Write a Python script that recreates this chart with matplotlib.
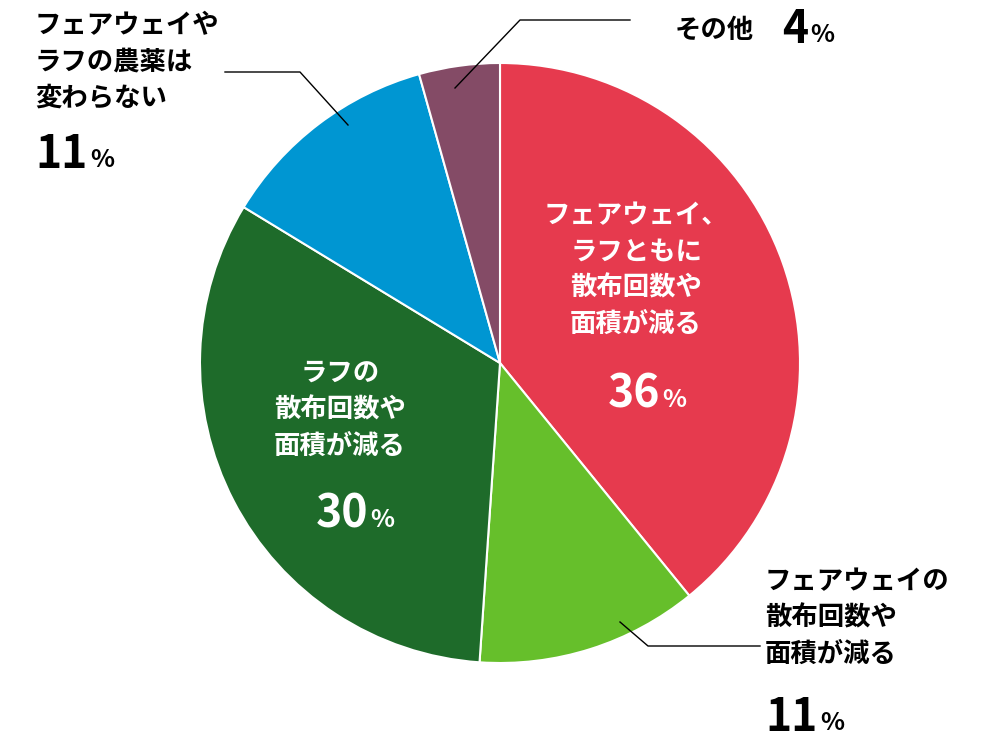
import matplotlib.pyplot as plt

plt.rcParams['font.family'] = 'Noto Sans CJK JP'

# データ
labels = ['フェアウェイ、\nラフともに\n散布回数や\n面積が減る', 'フェアウェイの\n散布回数や\n面積が減る',
          'ラフの\n散布回数や\n面積が減る', 'フェアウェイや\nラフの農薬は\n変わらない', 'その他']
values = [36, 11, 30, 11, 4]
colors = ['#E63A4E', '#66BF2B', '#1E6B2A', '#0096D2', '#844B66']

W, H = 1000, 739
fig = plt.figure(figsize=(10, 7.39), dpi=100)
ax = fig.add_axes([200 / W, (H - 663) / H, 600 / W, 600 / H])
ax.pie(values, colors=colors, startangle=90, counterclock=False, radius=1,
       wedgeprops=dict(edgecolor='white', linewidth=1.5))
ax.set_xlim(-1, 1)
ax.set_ylim(-1, 1)
ax.set_aspect('equal')
ax.axis('off')


def px(x, y):
    return ((x - 500) / 300, (363 - y) / 300)


def label(x, y, text, color, ha='center', ls=1.45):
    ax.text(*px(x, y), text, color=color, ha=ha, va='top', fontsize=19,
            fontweight='bold', linespacing=ls, clip_on=False)


def pct(x, y, v, color):
    ax.text(*px(x, y), str(v), color=color, ha='right', va='center', fontsize=32,
            fontweight='bold', fontstretch='condensed', clip_on=False)
    ax.text(*px(x + 2, y + 5), '%', color=color, ha='left', va='center', fontsize=18,
            fontweight='bold', clip_on=False)


label(636, 202, labels[0], 'white')
pct(660, 395, values[0], 'white')
label(340, 360, labels[2], 'white')
pct(368, 515, values[2], 'white')
label(765, 568, labels[1], 'black', ha='left')
pct(818, 718, values[1], 'black')
label(35, 12, labels[3], 'black', ha='left')
pct(88, 155, values[3], 'black')
ax.text(*px(675, 30), labels[4], color='black', ha='left', va='center', fontsize=19,
        fontweight='bold', clip_on=False)
pct(808, 30, values[4], 'black')

# 引き出し線
for pts in [[(455, 88), (520, 20), (630, 20)],
            [(348, 125), (300, 72), (225, 72)],
            [(620, 622), (648, 646), (760, 646)]]:
    xs, ys = zip(*[px(a, b) for a, b in pts])
    ax.plot(xs, ys, color='black', lw=1, clip_on=False)

plt.savefig('out.png', dpi=100)
